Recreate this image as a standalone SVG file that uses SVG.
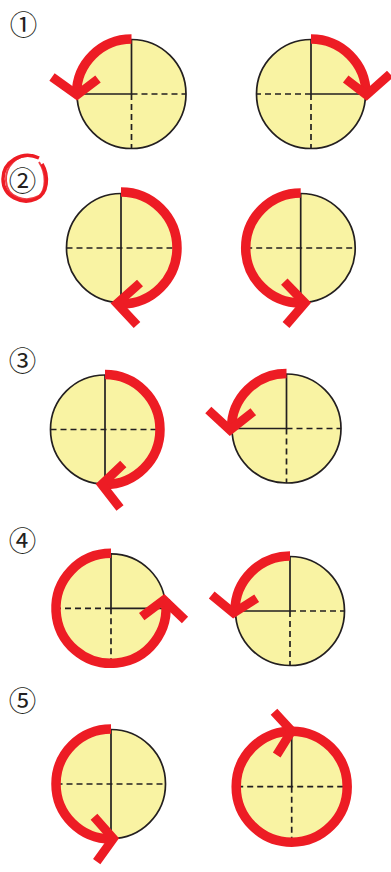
<svg xmlns="http://www.w3.org/2000/svg" width="391" height="872" viewBox="0 0 391 872">
<style>
.disc{fill:#F9F3A3;stroke:#231F20;stroke-width:1.7}
.solid{fill:none;stroke:#231F20;stroke-width:1.7}
.dash{fill:none;stroke:#231F20;stroke-width:1.7;stroke-dasharray:6 4}
.arc{fill:none;stroke:#ED1C24;stroke-width:9.5;stroke-linecap:butt}
.head{fill:none;stroke:#ED1C24;stroke-width:9;stroke-linejoin:miter;stroke-miterlimit:10}
.num{font-family:"Noto Sans CJK JP","DejaVu Sans",sans-serif;font-size:27.5px;fill:#231F20;text-anchor:middle}
</style>
<rect width="391" height="872" fill="#fff"/>
<g id="labels">
<text class="num" x="23.5" y="35.2">①</text>
<text class="num" x="22.5" y="191.2">②</text>
<text class="num" x="22.5" y="371.2">③</text>
<text class="num" x="22.5" y="551.2">④</text>
<text class="num" x="22.5" y="711.2">⑤</text>
<path d="M39,158 C22,150 3,162 3,179 C3,197 22,205 36,199 C48,194 49,176 42,164" fill="none" stroke="#ED1C24" stroke-width="3.5"/>
<path d="M33,155 C17,154 5,166 6,181 C7,198 26,203 39,196 C46,190 47,174 39,162" fill="none" stroke="#ED1C24" stroke-width="2" opacity="0.85"/>
</g>
<g id="c1">
<circle class="disc" cx="131.5" cy="94" r="54.5"/>
<path class="solid" d="M131.5,39.5 V94 H77"/>
<path class="dash" d="M131.5,94 H186 M131.5,94 V148.5"/>
</g>
<g id="c2">
<circle class="disc" cx="311" cy="94" r="54.5"/>
<path class="solid" d="M311,39.5 V94 H365.5"/>
<path class="dash" d="M311,94 H256.5 M311,94 V148.5"/>
</g>
<g id="c3">
<circle class="disc" cx="121" cy="248" r="54.5"/>
<path class="solid" d="M121,193.5 V302.5"/>
<path class="dash" d="M66.5,248 H175.5"/>
</g>
<g id="c4">
<circle class="disc" cx="300.7" cy="248" r="54.5"/>
<path class="solid" d="M300.7,193.5 V302.5"/>
<path class="dash" d="M246.2,248 H355.2"/>
</g>
<g id="c5">
<circle class="disc" cx="105" cy="429.5" r="54.5"/>
<path class="solid" d="M105,375 V484"/>
<path class="dash" d="M50.5,429.5 H159.5"/>
</g>
<g id="c6">
<circle class="disc" cx="286.5" cy="428.5" r="54.5"/>
<path class="solid" d="M286.5,374 V428.5 H232"/>
<path class="dash" d="M286.5,428.5 H341 M286.5,428.5 V483"/>
</g>
<g id="c7">
<circle class="disc" cx="111" cy="608.3" r="54.5"/>
<path class="solid" d="M111,553.8 V608.3 H165.5"/>
<path class="dash" d="M111,608.3 H56.5 M111,608.3 V662.8"/>
</g>
<g id="c8">
<circle class="disc" cx="290" cy="611" r="54.5"/>
<path class="solid" d="M290,556.5 V611 H235.5"/>
<path class="dash" d="M290,611 H344.5 M290,611 V665.5"/>
</g>
<g id="c9">
<circle class="disc" cx="111" cy="784" r="54.5"/>
<path class="solid" d="M111,729.5 V838.5"/>
<path class="dash" d="M56.5,784 H165.5"/>
</g>
<g id="c10">
<circle class="disc" cx="291.7" cy="786.7" r="54.5"/>
<path class="solid" d="M291.7,732.2 V786.7"/>
<path class="dash" d="M237.2,786.7 H346.2 M291.7,786.7 V841.2"/>
</g>
<g id="connectors">
<path class="arc" d="M131.5,39 A55,55 0 0 0 76.5,94"/>
<path class="head" d="M52,77 L77,95 L98,79"/>
<path class="arc" d="M311,39 A55,55 0 0 1 366,94"/>
<path class="head" d="M345.7,79 L366.5,95 L390,74"/>
<path class="arc" d="M121,192 A56,56 0 0 1 121,304"/>
<path class="head" d="M140,283 L117,303.5 L137,325"/>
<path class="arc" d="M300.7,193 A55,55 0 0 0 300.7,303"/>
<path class="head" d="M284.3,281.7 L305,303 L286,325"/>
<path class="arc" d="M105,374.5 A55,55 0 0 1 105,484.5"/>
<path class="head" d="M123.3,464 L101.7,484.5 L120,508"/>
<path class="arc" d="M286.5,373.5 A55,55 0 0 0 231.5,428.5"/>
<path class="head" d="M208.3,410 L230,430 L253.3,411.7"/>
<path class="arc" d="M111,553.3 A55,55 0 1 0 165.3,599.7"/>
<path class="head" d="M141.7,616.7 L164,600 L185,620"/>
<path class="arc" d="M290,556 A55,55 0 0 0 235,611"/>
<path class="head" d="M211.7,595 L233.5,613 L256.7,598.3"/>
<path class="arc" d="M111,729 A55,55 0 0 0 111,839"/>
<path class="head" d="M94,816.7 L113.3,838.5 L96.7,861.7"/>
<circle class="arc" cx="291.7" cy="786.7" r="55.5"/>
<path class="head" d="M274,711.7 L291.7,731 L276.7,755"/>
</g>
</svg>
